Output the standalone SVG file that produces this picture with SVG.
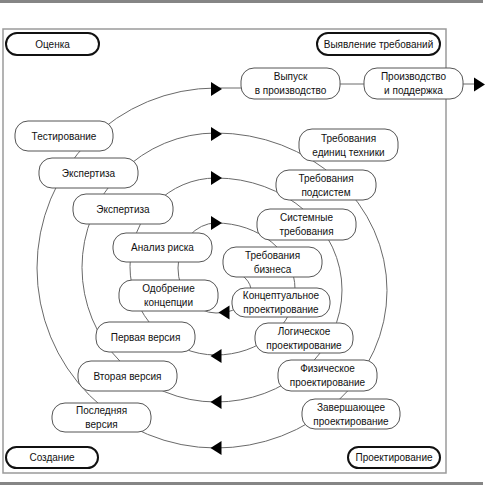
<svg xmlns="http://www.w3.org/2000/svg" width="486" height="485" viewBox="0 0 486 485">
<style>
.bar{fill:#858585}
.frame{fill:none;stroke:#9a9a9a;stroke-width:1.5}
.c{fill:none;stroke:#6a6a6a;stroke-width:1}
.n rect{fill:#fff;stroke:#555;stroke-width:1}
.k rect{fill:#fff;stroke:#111;stroke-width:2}
text{font-family:"Liberation Sans",Arial,sans-serif;font-size:10px;fill:#111;text-anchor:middle}
.ah{fill:#000}
</style>
<defs>
<polygon id="ar" class="ah" points="-5.5,-7 5.5,0 -5.5,7"/>
</defs>
<rect class="bar" x="0" y="0" width="483" height="3"/>
<rect class="bar" x="0" y="482" width="483" height="3"/>
<rect class="frame" x="3" y="29" width="443" height="444"/>
<g id="connectors">
<path class="c" d="M232,270.5 A35,22.5 0 0 1 216,313"/>
<path class="c" d="M216,313 A38,45 0 0 1 216,223"/>
<path class="c" d="M216,223 A79,66 0 0 1 216,355"/>
<path class="c" d="M216,355 A86,88.5 0 0 1 216,178"/>
<path class="c" d="M216,178 A126,112 0 0 1 216,402"/>
<path class="c" d="M216,402 A134,134.5 0 0 1 216,133"/>
<path class="c" d="M216,133 A171,157.5 0 0 1 216,448"/>
<path class="c" d="M216,448 A179,180 0 0 1 216,88"/>
<path class="c" d="M216,88 L241,88"/>
<path class="c" d="M340,84 L364,84"/>
<path class="c" d="M463,84 L474,84"/>
<use href="#ar" transform="translate(216.5,89)"/>
<use href="#ar" transform="translate(216.5,134)"/>
<use href="#ar" transform="translate(216.5,178)"/>
<use href="#ar" transform="translate(216.5,223)"/>
<use href="#ar" transform="translate(224,312.5) scale(-1,1)"/>
<use href="#ar" transform="translate(216,356) scale(-1,1)"/>
<use href="#ar" transform="translate(216,402) scale(-1,1)"/>
<use href="#ar" transform="translate(216,448) scale(-1,1)"/>
<use href="#ar" transform="translate(479.5,84.5)"/>
</g>
<g id="ocenka" class="k"><rect x="6" y="33" width="93" height="22" rx="11"/><text x="52.5" y="47.5">Оценка</text></g>
<g id="vyyavlenie" class="k"><rect x="317" y="33" width="123" height="22" rx="11"/><text x="378.5" y="47.5">Выявление требований</text></g>
<g id="sozdanie" class="k"><rect x="6" y="447" width="92" height="21" rx="10.5"/><text x="52" y="461">Создание</text></g>
<g id="proektirovanie" class="k"><rect x="348" y="447" width="92" height="21" rx="10.5"/><text x="394" y="461">Проектирование</text></g>
<g id="vypusk" class="n"><rect x="241" y="68" width="99" height="31" rx="13"/><text x="290.5" y="80">Выпуск</text><text x="290.5" y="94">в производство</text></g>
<g id="proizvodstvo" class="n"><rect x="364" y="68" width="99" height="31" rx="13"/><text x="413.5" y="80">Производство</text><text x="413.5" y="94">и поддержка</text></g>
<g id="testirovanie" class="n"><rect x="15" y="121" width="98" height="30" rx="13"/><text x="64" y="139.5">Тестирование</text></g>
<g id="ekspertiza1" class="n"><rect x="39" y="158" width="99" height="30" rx="13"/><text x="88.5" y="176.5">Экспертиза</text></g>
<g id="ekspertiza2" class="n"><rect x="73" y="194" width="100" height="30" rx="13"/><text x="123" y="212.5">Экспертиза</text></g>
<g id="treb-edinic" class="n"><rect x="299" y="129" width="99" height="32" rx="13"/><text x="348.5" y="141.5">Требования</text><text x="348.5" y="155.5">единиц техники</text></g>
<g id="treb-podsistem" class="n"><rect x="276" y="170" width="100" height="30" rx="13"/><text x="326" y="181.5">Требования</text><text x="326" y="195.5">подсистем</text></g>
<g id="sistemnye" class="n"><rect x="257" y="209" width="99" height="31" rx="13"/><text x="306.5" y="221">Системные</text><text x="306.5" y="235">требования</text></g>
<g id="analiz" class="n"><rect x="113" y="233" width="99" height="29" rx="13"/><text x="162.5" y="251">Анализ риска</text></g>
<g id="treb-biznesa" class="n"><rect x="223" y="247" width="99" height="30" rx="13"/><text x="272.5" y="258.5">Требования</text><text x="272.5" y="272.5">бизнеса</text></g>
<g id="odobrenie" class="n"><rect x="119" y="280" width="99" height="31" rx="13"/><text x="168.5" y="292">Одобрение</text><text x="168.5" y="306">концепции</text></g>
<g id="konceptualnoe" class="n"><rect x="232" y="288" width="98" height="29" rx="13"/><text x="281" y="299">Концептуальное</text><text x="281" y="313">проектирование</text></g>
<g id="pervaya" class="n"><rect x="96" y="322" width="99" height="30" rx="13"/><text x="145.5" y="340.5">Первая версия</text></g>
<g id="logicheskoe" class="n"><rect x="255" y="323" width="98" height="30" rx="13"/><text x="304" y="334.5">Логическое</text><text x="304" y="348.5">проектирование</text></g>
<g id="vtoraya" class="n"><rect x="78" y="361" width="99" height="30" rx="13"/><text x="127.5" y="379.5">Вторая версия</text></g>
<g id="fizicheskoe" class="n"><rect x="278" y="360" width="99" height="31" rx="13"/><text x="327.5" y="372">Физическое</text><text x="327.5" y="386">проектирование</text></g>
<g id="poslednyaya" class="n"><rect x="52" y="403" width="99" height="29" rx="13"/><text x="101.5" y="414">Последняя</text><text x="101.5" y="428">версия</text></g>
<g id="zavershayuschee" class="n"><rect x="302" y="399" width="98" height="30" rx="13"/><text x="351" y="410.5">Завершающее</text><text x="351" y="424.5">проектирование</text></g>
</svg>
